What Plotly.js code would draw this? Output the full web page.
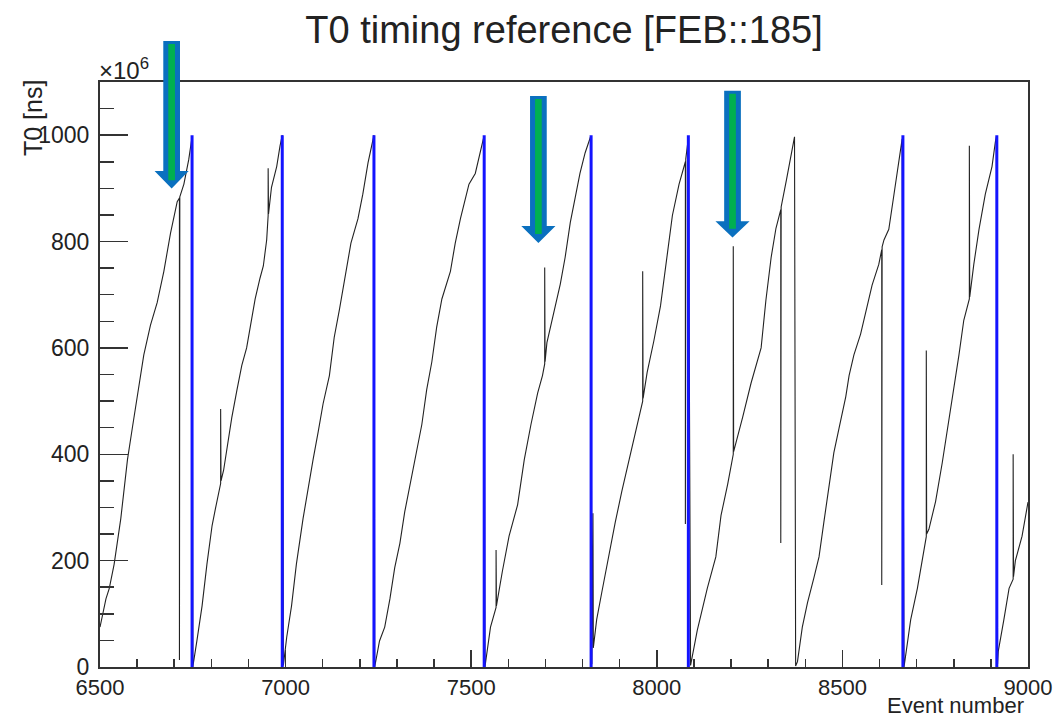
<!DOCTYPE html>
<html><head><meta charset="utf-8">
<script src="https://cdn.plot.ly/plotly-3.0.1.min.js"></script>
<style>html,body{margin:0;padding:0;background:#fff;} #chart{width:1059px;height:719px;}</style>
</head><body><div id="chart"></div>
<script>
// T0 per event, in units of 10^6 ns
const eventNumber = [
  6500,6516,6525,6538,6556,6574,6587,6605,6618,6636,6654,6672,6690,6708,6714,6714,6715,6726,6739,6748,
  6750,6761,6775,6788,6802,6811,6825,6825,6826,6833,6846,6855,6869,6882,6895,6909,6918,6931,6940,6949,6953,6953,6954,6962,6976,6985,6991,
  6994,7003,7016,7029,7047,7061,7074,7088,7101,7118,7131,7145,7163,7176,7195,7208,7222,7235,7238,
  7240,7253,7267,7281,7294,7308,7321,7335,7348,7367,7380,7394,7407,7421,7444,7457,7471,7494,7511,7525,7534,
  7537,7552,7567,7567,7568,7584,7602,7625,7643,7661,7679,7692,7698,7698,7699,7704,7727,7740,7753,7767,7780,7793,7807,7818,7822,
  7825,7828,7829,7838,7852,7870,7888,7906,7924,7942,7956,7962,7962,7963,7974,7992,8010,8028,8042,8060,8073,8077,8077,8078,8085,
  8091,8109,8136,8159,8173,8191,8206,8206,8207,8231,8254,8281,8294,8308,8321,8334,8334,8335,8349,8362,8371,
  8374,8379,8392,8406,8423,8437,8450,8464,8477,8491,8509,8518,8531,8549,8562,8580,8598,8606,8606,8607,8612,8625,8639,8652,8661,
  8666,8684,8702,8720,8726,8726,8727,8733,8751,8769,8787,8800,8814,8827,8842,8842,8843,8854,8868,8885,8903,8912,8915,
  8918,8920,8935,8949,8960,8960,8961,8966,8984,9000
];
const t0Value = [
  75,128,148,193,279,390,449,534,587,643,685,744,816,875,882,13,884,908,954,997,
  0,49,115,193,266,298,345,485,350,370,430,469,521,567,600,652,692,731,754,803,849,938,852,902,941,980,1000,
  3,56,115,193,279,338,390,443,495,548,620,672,744,797,843,889,948,990,1000,
  0,49,75,128,187,233,292,344,390,456,521,574,639,692,744,797,843,908,928,967,997,
  0,75,112,220,115,180,246,305,390,456,515,548,570,751,574,610,679,720,770,836,882,928,967,987,998,
  5,289,36,89,141,207,272,331,384,436,482,500,744,505,554,613,679,770,849,908,941,950,269,955,995,
  3,69,148,207,285,344,400,791,405,469,534,600,690,770,825,860,233,865,915,967,997,
  2,10,75,121,167,207,272,344,403,449,508,548,587,626,666,718,757,785,154,790,803,823,889,954,993,
  0,89,148,226,245,595,250,259,311,384,462,521,587,652,692,980,696,757,823,889,941,987,998,
  5,30,89,148,165,400,170,200,246,310
];
// events where the counter reset is marked in blue
const resetEvents = [6748, 6991, 7238, 7535, 7823, 8085, 8663, 8916];
const resetLow = 0, resetHigh = 1000;

// highlight arrows: event they point at, and vertical extents (fraction of plot height)
const arrowEvents = [6693, 7681, 8204];
const arrowTop    = [1.070, 0.976, 0.985];
const arrowHead   = [0.848, 0.754, 0.762];
const arrowTip    = [0.818, 0.725, 0.734];
const arrowGreenEnd = [0.832, 0.740, 0.749];

const resetX = [], resetY = [];
resetEvents.forEach(e => { resetX.push(e, e, null); resetY.push(resetLow, resetHigh, null); });

const traces = [
  {x: eventNumber, y: t0Value, type: 'scatter', mode: 'lines',
   line: {color: '#222', width: 1.1}, hoverinfo: 'skip'},
  {x: resetX, y: resetY, type: 'scatter', mode: 'lines',
   line: {color: '#1414ff', width: 3}, hoverinfo: 'skip'}
];

const shapes = [];
arrowEvents.forEach((cx, i) => {
  const sw = 22.5, hw = 46, gw = 9;
  shapes.push({type: 'path', xref: 'x', yref: 'paper', layer: 'above',
    path: `M ${cx-sw},${arrowTop[i]} L ${cx+sw},${arrowTop[i]} L ${cx+sw},${arrowHead[i]} L ${cx+hw},${arrowHead[i]} L ${cx},${arrowTip[i]} L ${cx-hw},${arrowHead[i]} L ${cx-sw},${arrowHead[i]} Z`,
    fillcolor: '#0a70bf', line: {width: 0}});
  shapes.push({type: 'rect', xref: 'x', yref: 'paper', layer: 'above',
    x0: cx-gw, x1: cx+gw, y0: arrowTop[i]-0.005, y1: arrowGreenEnd[i],
    fillcolor: '#00b050', line: {width: 0}});
});

const font = 'Liberation Sans, Arial, Helvetica, sans-serif';
const axisCommon = {
  showgrid: false, zeroline: false, showline: true, mirror: true,
  linecolor: '#333', linewidth: 2, ticks: 'inside', tickcolor: '#333', tickwidth: 1.5,
  tickfont: {family: font, size: 23, color: '#222'}, fixedrange: true
};
const layout = {
  width: 1059, height: 719,
  margin: {l: 100, r: 31, t: 82, b: 52},
  paper_bgcolor: '#fff', plot_bgcolor: '#fff',
  showlegend: false, hovermode: false,
  title: {text: 'T0 timing reference [FEB::185]', font: {family: font, size: 38, color: '#222'},
          x: 0.5, xref: 'paper', xanchor: 'center', y: 1 - 30/719, yref: 'container', yanchor: 'middle'},
  xaxis: Object.assign({}, axisCommon, {range: [6500, 9000], tick0: 6500, dtick: 500, ticklen: 17,
          tickfont: {family: font, size: 22, color: '#222'},
          minor: {dtick: 100, ticks: 'inside', ticklen: 8, tickcolor: '#333', tickwidth: 1.5}}),
  yaxis: Object.assign({}, axisCommon, {range: [0, 1100], tick0: 0, dtick: 200, ticklen: 28, ticklabelstandoff: 4,
          minor: {dtick: 50, ticks: 'inside', ticklen: 14, tickcolor: '#333', tickwidth: 1.5}}),
  annotations: [
    {text: 'T0 [ns]', xref: 'paper', yref: 'paper', x: -0.0727, y: 0.9376, textangle: -90,
     xanchor: 'center', yanchor: 'middle', showarrow: false, font: {family: font, size: 25, color: '#222'}},
    {text: '×10<sup>6</sup>', xref: 'paper', yref: 'paper', x: -0.003, y: 1.022,
     xanchor: 'left', yanchor: 'middle', showarrow: false, font: {family: font, size: 24, color: '#222'}},
    {text: 'Event number', xref: 'paper', yref: 'paper', x: 0.9968, y: -0.0889,
     xanchor: 'right', yanchor: 'bottom', borderpad: 0, showarrow: false, font: {family: font, size: 22, color: '#222'}}
  ],
  shapes: shapes
};
Plotly.newPlot('chart', traces, layout, {displayModeBar: false, staticPlot: true});
</script>
</body></html>
